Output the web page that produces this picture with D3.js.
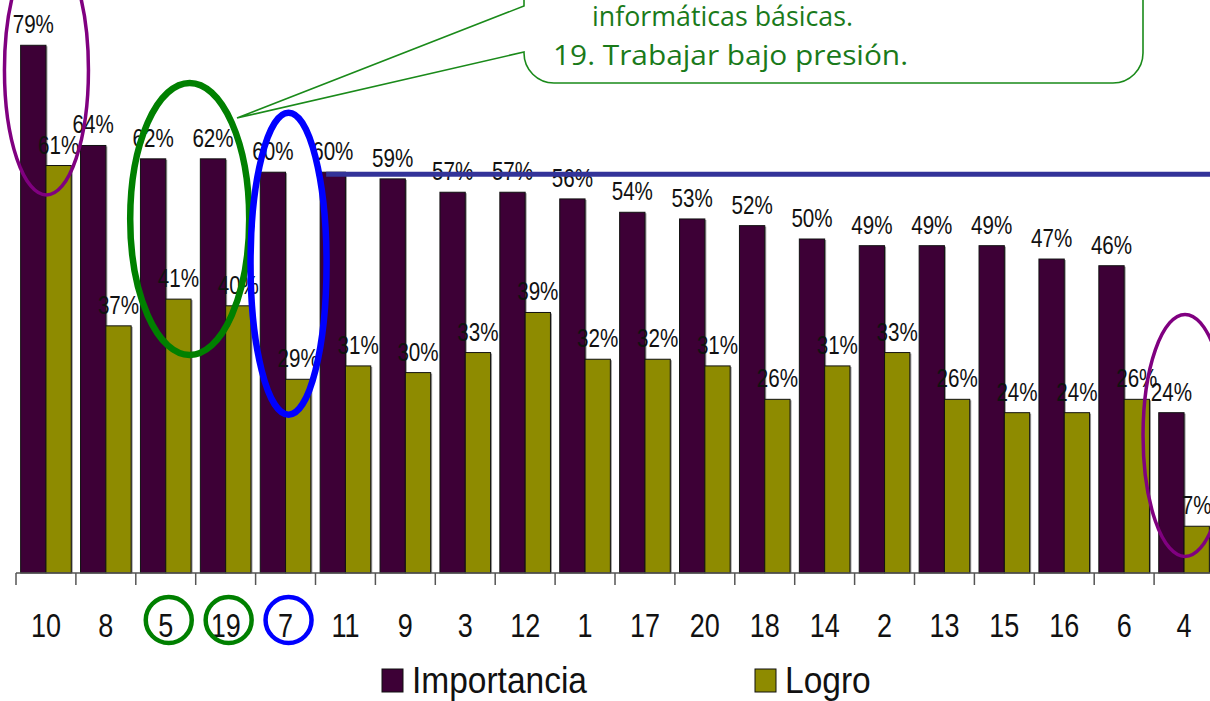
<!DOCTYPE html>
<html>
<head>
<meta charset="utf-8">
<script src="https://cdn.jsdelivr.net/npm/d3@7"></script>
<style>
  html, body { margin: 0; padding: 0; background: #fff; overflow: hidden; }
  svg { display: block; }
</style>
</head>
<body>
<svg id="chart" width="1210" height="701"></svg>
<script>
// ---- data ----
const categories = ["10","8","5","19","7","11","9","3","12","1","17","20","18","14","2","13","15","16","6","4"];
const importancia = [79,64,62,62,60,60,59,57,57,56,54,53,52,50,49,49,49,47,46,24];
const logro       = [61,37,41,40,29,31,30,33,39,32,32,31,26,31,33,26,24,24,26,7];
const seriesNames = ["Importancia","Logro"];
const seriesColors = ["#3D0036","#8E8B00"];
const referenceValue = 59.7;
const calloutLines = ["informáticas básicas.", "19. Trabajar bajo presión."];
const greenCircled = ["5","19"];
const blueCircled = ["7"];

// ---- layout ----
const svg = d3.select("#chart");
const baseY = 573;
const y = d3.scaleLinear().domain([0, 100]).range([baseY, baseY - 668]);
const step = 59.9;
const x0 = d3.scaleBand().domain(categories).range([16, 16 + step * categories.length])
  .paddingInner(0.155).paddingOuter(0.0775);
const x1 = d3.scaleBand().domain(seriesNames).range([0, x0.bandwidth()]);
const outerOff = x0.step() * 0.0775;

const rows = categories.map((c, i) => ({cat: c, vals: [importancia[i], logro[i]]}));

// bars
const g = svg.append("g");
rows.forEach(r => {
  r.vals.forEach((v, si) => {
    const bx = x0(r.cat) + x1(seriesNames[si]);
    const w = x1.bandwidth();
    g.append("rect").attr("x", bx + 1.5).attr("y", y(v) + 1).attr("width", w).attr("height", baseY - y(v) - 1)
      .attr("fill", "#9a9a9a");
    g.append("rect").attr("x", bx).attr("y", y(v)).attr("width", w).attr("height", baseY - y(v))
      .attr("fill", seriesColors[si]).attr("stroke", "#111").attr("stroke-width", 1);
  });
});

// value labels
rows.forEach(r => {
  r.vals.forEach((v, si) => {
    const cx = x0(r.cat) + x1(seriesNames[si]) + x1.bandwidth() / 2;
    g.append("text")
      .attr("transform", `translate(${cx},${y(v) - 12}) scale(1.03,1.26)`)
      .attr("text-anchor", "middle")
      .attr("font-family", "'Liberation Sans', Arial, sans-serif")
      .attr("font-size", 20)
      .attr("fill", "#111")
      .text(v + "%");
  });
});

// axis line + ticks
const axisG = svg.append("g");
axisG.append("line").attr("x1", 16).attr("x2", 1210).attr("y1", baseY).attr("y2", baseY)
  .attr("stroke", "#555").attr("stroke-width", 1.5);
categories.forEach((c, i) => {
  const tx = x0(c) - outerOff;
  axisG.append("line").attr("x1", tx).attr("x2", tx).attr("y1", baseY).attr("y2", baseY + 12)
    .attr("stroke", "#555").attr("stroke-width", 1.5);
});
categories.forEach(c => {
  const cx = x0(c) + x0.bandwidth() / 2;
  axisG.append("text")
    .attr("transform", `translate(${cx},637) scale(1,1.24)`)
    .attr("text-anchor", "middle")
    .attr("font-family", "'Liberation Sans', Arial, sans-serif")
    .attr("font-size", 27)
    .attr("fill", "#111")
    .text(c);
});

// reference line
svg.append("line")
  .attr("x1", x0("11") + 6).attr("x2", 1215)
  .attr("y1", y(referenceValue)).attr("y2", y(referenceValue))
  .attr("stroke", "#333399").attr("stroke-width", 5);

// ellipses
const ann = svg.append("g").attr("fill", "none");
ann.append("ellipse").attr("cx", x0("10") + x0.bandwidth()/2 + 0.5).attr("cy", y(75.3))
  .attr("rx", 42).attr("ry", 125).attr("stroke", "#800080").attr("stroke-width", 3.5);
ann.append("ellipse").attr("cx", x0("19") - outerOff - 6).attr("cy", y(53))
  .attr("rx", 59.5).attr("ry", 136).attr("stroke", "#008000").attr("stroke-width", 6.5);
ann.append("ellipse").attr("cx", x0("7") + x0.bandwidth()/2 + 3).attr("cy", y(46.3))
  .attr("rx", 38).attr("ry", 151).attr("stroke", "#0000FF").attr("stroke-width", 6.5);
ann.append("ellipse").attr("cx", x0("4") + x0.bandwidth()/2 + 1).attr("cy", y(20.6))
  .attr("rx", 42).attr("ry", 121).attr("stroke", "#800080").attr("stroke-width", 3.5);

// circles around x labels
greenCircled.concat(blueCircled).forEach(c => {
  ann.append("circle").attr("cx", x0(c) + x0.bandwidth()/2 + 3).attr("cy", 620).attr("r", 23)
    .attr("stroke", greenCircled.includes(c) ? "#008000" : "#0000FF").attr("stroke-width", 4.5);
});

// callout
const tipX = 237, tipY = 118;
const path = d3.path();
path.moveTo(1143, -20);
path.lineTo(1143, 53);
path.arcTo(1143, 83, 1113, 83, 30);
path.lineTo(554, 83);
path.arcTo(524, 83, 524, 53, 30);
path.lineTo(524, 52);
path.lineTo(tipX, tipY);
path.lineTo(524, 6);
path.lineTo(524, -20);
svg.append("path").attr("d", path.toString()).attr("fill", "#fff")
  .attr("stroke", "#1a8a1a").attr("stroke-width", 1.6);

const ct = svg.append("g").attr("font-family", "'Open Sans', 'Noto Sans', sans-serif")
  .attr("font-weight", 400).attr("fill", "#1a7a1a");
ct.append("text").attr("x", 592).attr("y", 26).attr("font-size", 27)
  .attr("textLength", 261).attr("lengthAdjust", "spacingAndGlyphs").text(calloutLines[0]);
ct.append("text").attr("x", 553).attr("y", 65).attr("font-size", 27)
  .attr("textLength", 355).attr("lengthAdjust", "spacingAndGlyphs").text(calloutLines[1]);

// legend
const lg = svg.append("g");
const legendX = [382, 755];
seriesNames.forEach((s, i) => {
  lg.append("rect").attr("x", legendX[i]).attr("y", 669).attr("width", 21).attr("height", 23)
    .attr("fill", seriesColors[i]).attr("stroke", "#111").attr("stroke-width", 1);
  lg.append("text")
    .attr("transform", `translate(${legendX[i] + 30},693) scale(1,1.08)`)
    .attr("font-family", "'Liberation Sans', Arial, sans-serif")
    .attr("font-size", 33.5).attr("fill", "#111").text(s);
});
</script>
</body>
</html>
